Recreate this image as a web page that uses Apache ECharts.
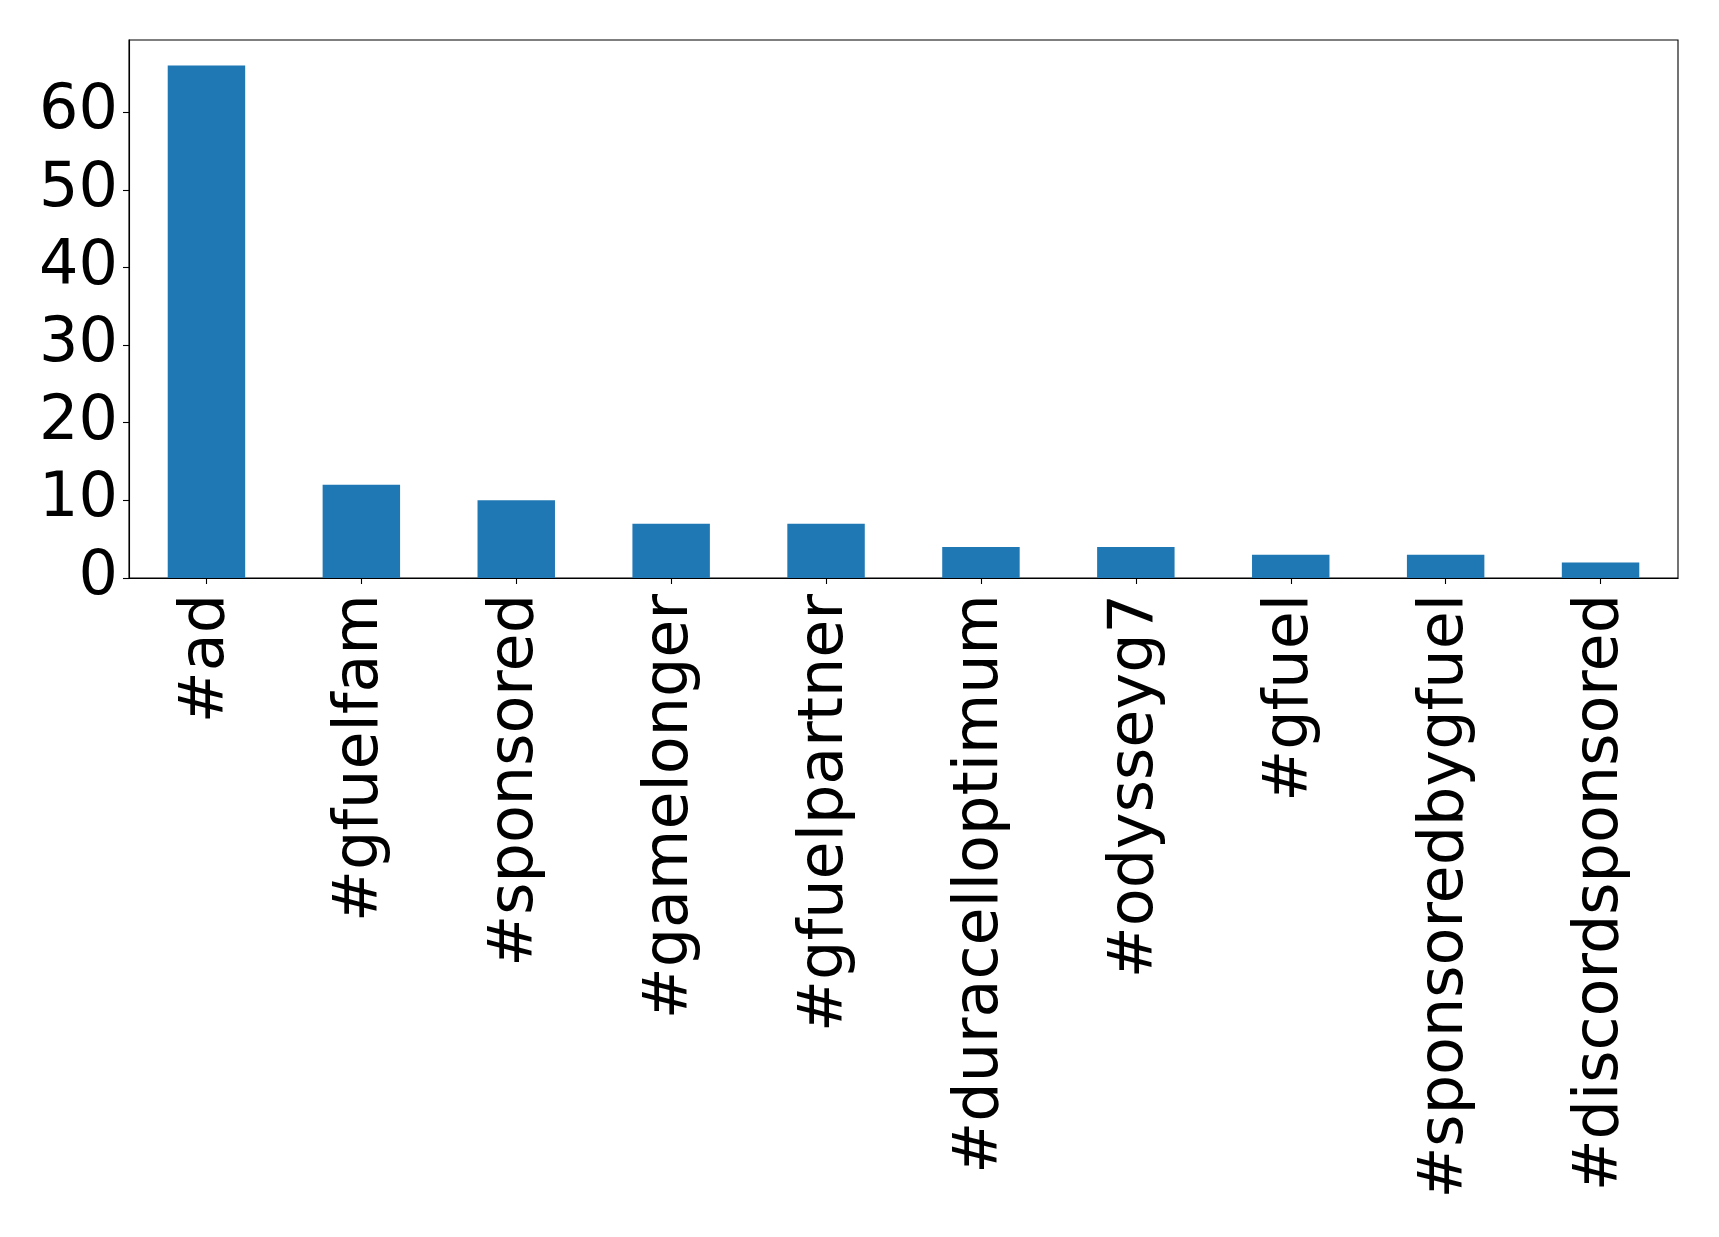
<!DOCTYPE html>
<html>
<head>
<meta charset="utf-8">
<script src="https://cdn.jsdelivr.net/npm/echarts@6/dist/echarts.min.js"></script>
<style>
  html, body { margin: 0; padding: 0; background: #ffffff; }
  #chart { width: 1719px; height: 1237px; }
</style>
</head>
<body>
<div id="chart"></div>
<script>
// Hashtag counts
const hashtags = ['#ad', '#gfuelfam', '#sponsored', '#gamelonger', '#gfuelpartner',
  '#duracelloptimum', '#odysseyg7', '#gfuel', '#sponsoredbygfuel', '#discordsponsored'];
const counts = [66, 12, 10, 7, 7, 4, 4, 3, 3, 2];
const yTicks = [0, 10, 20, 30, 40, 50, 60];

const FONT = 'DejaVu Sans';
const chart = echarts.init(document.getElementById('chart'), null, { renderer: 'canvas' });

chart.setOption({
  animation: false,
  backgroundColor: '#ffffff',
  grid: {
    left: 129, right: 41, top: 40, bottom: 659,
    show: true, borderColor: '#000000', borderWidth: 1.1, backgroundColor: 'transparent'
  },
  xAxis: {
    type: 'category',
    data: hashtags,
    axisLine: { show: true, lineStyle: { color: '#000000', width: 1.1 } },
    axisTick: { show: true, alignWithLabel: true, length: 6, lineStyle: { color: '#000000', width: 1.1 } },
    axisLabel: {
      rotate: 90, interval: 0, margin: 16,
      fontFamily: FONT, fontSize: 62, color: '#000000'
    },
    splitLine: { show: false }
  },
  yAxis: {
    type: 'value',
    min: 0, max: 69.3, interval: 10,
    axisLine: { show: true, lineStyle: { color: '#000000', width: 1.1 } },
    axisTick: { show: true, length: 6, lineStyle: { color: '#000000', width: 1.1 } },
    axisLabel: {
      margin: 11, fontFamily: FONT, fontSize: 62, color: '#000000',
      showMaxLabel: false,
      formatter: v => (yTicks.indexOf(v) >= 0 ? String(v) : '')
    },
    splitLine: { show: false }
  },
  series: [{
    type: 'bar',
    data: counts,
    barWidth: '50%',
    itemStyle: { color: '#1f77b4' }
  }]
});
</script>
</body>
</html>
